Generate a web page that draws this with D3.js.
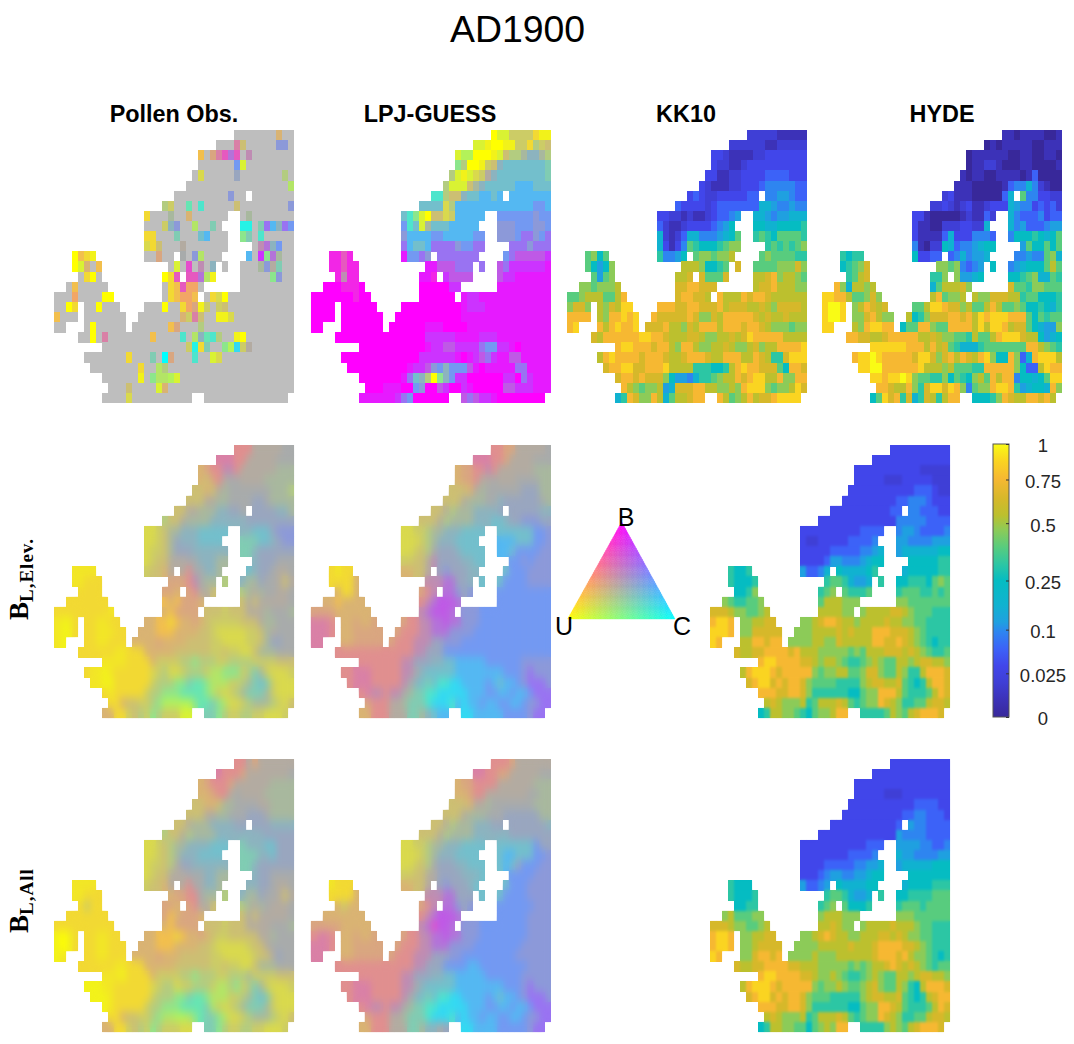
<!DOCTYPE html>
<html><head><meta charset="utf-8">
<script src="https://d3js.org/d3.v7.min.js"></script>
<style>html,body{margin:0;padding:0;background:#fff}svg{display:block}text{font-family:"Liberation Sans",Arial,sans-serif}</style>
</head><body><div id="chart"></div>
<script>
const figureTitle = "AD1900";
const columnTitles = ["Pollen Obs.", "LPJ-GUESS", "KK10", "HYDE"];
const colorbarTicks = [0, 0.025, 0.1, 0.25, 0.5, 0.75, 1];
const colorbarPositions = [0, 0.16, 0.32, 0.5, 0.71, 0.87, 1];

// inclusive land column runs of the 40 x 27 grid, per row
const landRuns = [
[[30,39]],[[27,39]],[[24,39]],[[24,39]],[[23,39]],[[22,39]],[[20,31],[33,39]],[[18,39]],
[[15,28],[31,39]],[[15,27],[31,39]],[[15,28],[31,39]],[[15,28],[33,39]],
[[3,6],[15,19],[21,27],[32,39]],[[3,7],[19,26],[28,28],[31,39]],[[4,7],[18,20],[22,26],[31,39]],
[[2,8],[18,24],[31,39]],[[0,9],[18,23],[25,39]],[[0,3],[5,10],[15,39]],[[0,3],[5,11],[14,39]],
[[0,1],[5,11],[13,39]],[[4,39]],[[8,39]],[[5,39]],[[6,39]],[[8,39]],[[9,39]],[[8,22],[25,38]]];

// symbol -> share of [Urban/U, Broadleaf/B, Conifer/C]; "_" = no observation
const ternarySymbols = {
Y:[1,0,0],y:[.9,.05,.05],A:[.85,.1,.05],a:[.8,.15,.05],o:[.7,.25,.05],O:[.6,.35,.05],r:[.45,.5,.05],
M:[0,1,0],N:[0,.9,.1],m:[.1,.85,.05],P:[0,.8,.2],f:[.2,.7,.1],p:[.25,.65,.1],q:[.1,.65,.25],D:[.15,.55,.3],
v:[.05,.55,.4],d:[.15,.4,.45],V:[.05,.4,.55],b:[.05,.28,.67],c:[.05,.15,.8],C:[0,0,1],t:[.1,.05,.85],
T:[.2,.1,.7],g:[.3,.1,.6],l:[.45,.1,.45],L:[.65,.05,.3],k:[.8,.05,.15],z:[.6,.1,.3],w:[.7,.15,.15],W:[.6,.2,.2],
S:[.55,.25,.2],s:[.5,.2,.3],h:[.38,.28,.34],G:[.33,.33,.34],B:[.25,.35,.4],e:[.2,.25,.55],E:[.3,.2,.5],n:[.25,.3,.45],
R:[.44,.44,.12],i:[.35,.5,.15],x:[.5,.35,.15],X:[.55,.3,.15],u:[.3,.45,.25],j:[.37,.33,.3]};

// symbol 0..g -> fraction of land
const scalarSymbols = "0123456789abcdefg";
const scalarValues = [0,.01,.02,.038,.067,.096,.123,.175,.25,.32,.395,.47,.545,.64,.755,.88,1];
const scalarColors = ["#38289a","#3c32b8","#3f3fd6","#4146ea","#3c62f8","#2e85f0","#1fa0e0","#10b2d0","#05bcc2","#2cc6a4","#58cc7e","#8ccb58","#bcc02e","#d6b82a","#f6b832","#fad421","#f9fb15"];

const pollenObs = [
"_______X__","___iS_____dd_","o_xipDp_u_______","______Vk________","_w_____B_______s_","_________________z",
"_________d__ _______","sW__g_T_____S________d","a___h__X______ _h_______","___Wnd__z__E_ tt_EvbnvV","aa___E___eb___ lE_T_____",
"waS___j_______ _uDnV__","Yoay __x__ G_dz___ b_PlDh__","YkX_o _k_f_u_n _ ___hdjE__","_aY_ Yap ppDzy _____ld__",
"_o_____ _aopOO_ _________","___O____YY _aoOOo _awY___________","__Ya __Y___ ___Y__aOxyW_WS___________",
"o___ _______ _______XWiS__yyw__________","__ _Y_____ ______ox___s_______________",
"__Y_i_______o____T_zngTs__yY________","______________WtaE__lLcWj_______","_______a___E_Cx___T__kw____________",
"________a__zs_____________________","______y_lzzLk___________________","___S____kX_____________________","____w__________ ______________"];

const lpjGuess = [
"YkkWWWWayy","kkyYYyyWWasWS","kLLYYYykSsshnnhs","lsYYyWSneeeeeeeE","skykwWjneeeeeeeeE","skkkShneeeeebbbeee",
"TTsSSneebbeb bbbbbbb","eeeewsbbbbbbbbbbbbbVVb","eTlkYSSwWbbbbb VVVVVVdVV","VTekheeebbbbb dddVVVddV","dbbbbVVbbbbbVV dddVvvdVv",
"vbeebvvvvdVVvv vvvdvvv","mmpm NVVvd vvvvvvv VvqqqqqP","mmpmm NNqqqvvv v qvPPPPPPN","mumm NNm Pqqqq qPPNNNNNN",
"MMMmmmM MMMMMPP NNNNNNNNN","MMMMMMMmMM MMMMMM NPPNNNNNNNNNNNN","MMMM MMMMMM MMMMMMMMMMNPPPNNNNNNNNNNN",
"MMMM MMMMMMM MMMMMMMMMMMNNNNNNNNNNNNNNN","MM MMMMMMM MMMMMMNNNMMMMNNNNNNNNNNNNNN",
"MMMMMMMMMMMMMMMPPPPPNNNNPPPNNNNNNNNN","MMMMMMMMMMMNPPqqPPPPvVVPPNMNNNNN","MMMMMMMMMMMMMPPPPPPNMNPqvPNNqqNNNNN",
"MMMMMMMMMMNPPqdVnVVVqNMNNNNNvvNNNN","MMMMMMMNvensYlnVPPMMMMMMPPMvPNNN","MMMNNNMMVdMMqPMMPNMMMMMqqPPPNNN","NNNNNNPvVMMMMMM qvqPPNMMMMMMMM"];

const kk10 = [
"2222211111","2222221122222","3321111223333333","3221123333333333","33112233334444333","321112233345555544",
"343223333344 5566544","4333323444444477655655","33221211234456 776566777","4211233334568 887788889","72124775556 78a 9a98aaaa9".replace("556 78a","55678a"),
"73135a98889abb 9a9a9ab","ab8a 95568 abbabbc abaaaa99","a868b cccb889a d aaaabbbdb","a6ab ccd daaad ccdebccba",
"bbabbbc ddeeddd cddecccbb","aabcccaace deeddc ecccedeedcccccc","bddb cbdcff eeeddeedddecdddccdcbddddc",
"eeee cbeefef edddddedbbdceeeeedcdccdccc","ef ecefeef dddeccbdceeeceeedeedcbbbabb",
"dceeeeeeffeedcccddcbbccdcdfeeeeecccc","effeeedeecbeecbbccdcbbcdbcceeeef","cefeeeedeeedccdeeedcceeeccedc99dfff",
"deeffddeeefcccc999889cefeeddda8eed","deededddb8665799abccedeffccebbee","ecbabbc67dddeeccbbcbefffbabbcfd","79edbbec7accdee ecabcecddeffff"];

const hyde = [
"1101111001","0101111100111","0111111001100110","0112210001100001","10110011110140000","111000001455752100",
"231110000047 a553322","2232123112333765534342","33100000121142 754445344","3110022233227 756444566","31111473335554 58889878a",
"51022874556788 6a88a8a","9899 83344 4575667 55655ab7","89abd bbab5456 8 567888aca","9acd 99b b6678 889ab77a9",
"eb7ccbc 7acccdb daa9bbaaa","ffeecaabdb ceabbc cbbdddcc9aa8889","fggf bcedcd aacffeddbcaacecaaba889879",
"fggf bbdecbb c89bdddeedecfefffeeea8a9aa","ff cbeffee 8aaeebaaeeeecfcffecdda8766b",
"eeddccdeeeeeccdcbbaa9caacefffdcc8678","ffffffeeececda97779aaaaaaaeecba9","effgfeeeeedffdbdecedcefb88eb47efffc",
"ffggeeeeeefcccbcaaa99eeeeeb844cfee","ffeffgfbaa99b8a98bcaecee58878aff","eedccebb9dffdfeb5abbeffe967887eb".replace("ebb9d","eb9d"),"8afde9d79dc9cee 8889bedcceedec"];

const blElevPollen = [
"RRRjjjjjGG","iiiRRjjjjjGGG","XxRRuuRjjjjjjhhh","XSxRjGGjjjjhhhhh","SSXSjhGGGGGGGhhhs","SSSjjhhGGGGBBGhhhh",
"SSjjhhhnnBBG BBBBnnh","sSSjhhhhnnnnnnBBBBBBBB","wwWShhnnneeeee nneeeBddd","wwWShBnnneeee EEEeenBdd","wWWShBBBnnnnnn EEnBBBBBB",
"wWSSjjjGGnnnhh nBBBGGG","AAAA WSSXj jRGGnnh enBBGjjG","AAaaa xxxRuGhh s nhhBGGjSj","aaaa xxX xRjjS shjhGGjjG",
"aaaaaaa oXoxxxX SjSjjjjjG","aaaaaaaaaA Xoxxxx SSSWSSSjjjhGGGh","Ayya aaAAaa XXooaoXXxXSWWWWWSSSjhhGGG",
"Ayya aaAAAaa XXXoooXXXXSSWwwwwwWWShjGGG","Ay aaAAaaa XXXXxXXXXSSSSWWwwwwWWShBBGG",
"aaaaaaAAaaaXXXXXSSSSSSWWSWWwwShhhGGG","AAAAaaaaXWWWWsslsssWWssssWWWWSSS","aAAyAaaaaaawWswwWsssWzzlllWsEhWwwwW",
"AAyyaaaaaaWsssllEgglzzzWWshEeEWwww","aAaaaaaWsslllggggLzWwWshEEEhWwww".replace("ggggL","ggggl"),"aaXSSWWslLLLLLlggElzwwWshhhsWwS","XXaaWSsWlsWWWkk EElsWWssWWwwwW"];

const blElevLpj = [
"RRxxjjjjjG","iiiRRxjjjjGGG","XxxRRuRjjjjjjhhh","XxxRjjGjjjGGGGhh","SSSXjhGGGGGGBBBhh","SSSjhhhGGnBBBBBBGh",
"SSjshhhnnnnB BBBBBnn","SSSjshhhhnnneenBBdddBB","wwWWshhnnneeee eeeeeeVVd","wwwWshnnneeee bbbeeeVVd","wwWSsGBBBneeee bbeVVVVdd",
"WWSSjuBBBBnnee VVdVddd","aAaa XXSSj BdBBBnn eVVVdddd","aaaaX uuuDDBBn e eVVVVdddd","XaaX xRu DDdBd VVVVVVVVV",
"XXoXXXX RuDqqqD VVVVVVVVV","xxxxXXXXXX uDqqqD dddVVVVVVVVVVVV","iiiR XXxXXx xRRuuDDqDDdddVVVVVVVVVVVV",
"iiiR XXxxxxx xRRRuuDDDddddVVVVVVVVVVVVV","ii XXxxxxx xRRRuuuBBdddVVVVVVVVVVVVVVV",
"RRRRRRRRRRRRRuuBBBVVVVVVVVVVVVVVVVVV","RRRRRRRuuBBBnneebbbbbVVVVVVddddd","RRiiiRRRRRuuGneeeeebbbbbbbbVVVdvddd",
"RiiiRRRRRuGneEeTTccbbbbVbebbVdvvvd","RiuuRuuGhEETTcccccbbbVVbbVbbVvvv","xRRRjjhEEETcccTbcbbVbbVVbbVddvv","XXRRRjjjEEhnebb ccbbbbbVVVVdvv"];

const blElevHuman = [
"3333333333","3333333333333","3333333333322222","3333322233333222","33333333333444322","333333333445554333",
"333333333344 5544433","3333333333333555554444","33333333334444 566544445","3223333344445 665555666","33333444445567 677777788",
"33334665556788 8888899","9889 64457 8777789 78888899","98889 9aa97667 9 889998aba","889b 9ab a999a 9aaa99a9a",
"ba99aab acccbbb bbaaaaaaa","dddcbbaabc ccccbb bccccddcbaaa999","effe bbccdd bbcdeedccbccccdccbbaa9999",
"fffe bbddddd bbbccccdcdccceeedddcba9999","fe cceedee bbbbccbbdccccceeddedcba9899",
"dccddeeeedecccbbbbbabacccdddcdcba99a","effeeeeddcbccba99abcbaaccbcddccb","cefffedeeeeebabbccaabddbaacb99ceeed",
"deffdedeedbaaaa9999bcddccda989ceed","eeeddeedb99999988abbeeeca999aced","cdcbbbc9acccdca9abbedcb99aacddc","89ccbba98abbcee 9999acbacdeeed"];

const blAllPollen = [
"RRjxjjjjjj","iRRRxjjjjjjjG","XxRRRxjjjjjjhhhh","XXxRRjGjjjjhhhhh","SSXXShhGGGGjjhhhh","SSSjjhhGGGBBBGhhhh",
"SSjhhhnnnnBB BBBnnnn","sSSjshhhhnnnnnnnnBBBBB","wwWSshhnnnneee EnnneeBBB","wwWSshnnneeee EEEnneBBB","wWWSsjBBnnnnnn EEnBBBBBB",
"wWSSjjjGGGnnhh nBBGGGG","AAAA WSSXj jRGGnnh nnBBGjjG","AAaaa XxxRRGhh s nhhBGGjSj","aWaa xxX xRjjS shjhGjjjG",
"aaaaaaa xoXxxxX SjSjjjjjG","aaaaaaaaaa Xoxxxx SSSWSSSjjjjGGGh","yYya aaAAaa XXoooaoXXxXSWWSSSSSjjhGGG",
"yYya aaAAaaa XXXoooXXXXSSWwwwwwWSSjGGGG","yA aaAAaaa XXXXxXXXSSSSSWWwwwwwWSSjBGG",
"aaaaaaAAaaaXXXXXSSSSSSWWSWWwwShhhGGG","AAAyaaaaXWWWWsslsssWWssshWWWWSSS","yyyAAaaaaaawWsswWWsssWzzslWsEhWwwwW",
"yyyAaaaaaaWsssllEgglzzzWWshEeEWwww","yAaaaaaWsslllggggEzWwWshEEEhWwww","aaXSSWWslzzLLzlgEElzwwWshhhsWwS","XXaaWSsWlsWWWww EElsWWssWWwwwW"];

const blAllLpj = [
"RRRxjjjjjj","iiRRxxjjjjjGG","XxxRRRRjjjjjjhhh","XXxRRjjjjjjjGGhh","SSSXjjhGGGGGGGhhh","SSSjhhhGGGBBBBBBhh",
"SSjshhhnnnBB BBBBBBn","SSSjshhhhnnnnnnBBBBBBB","wwWWshhnnneeee eeeeeeVBB","wwwWshnnneeee ebbeeeVVd","wwWSsGBBBnneee ebeBVVVdd",
"WWSSjjBBBBnnne VVVVddd","Aaaa XXSSj BdBBBne eVVVdddd","aaaaX uuuDDBBB e eVVVVdddd","XWXX xRu DDdBd VVVVVVddd",
"XXXXXXX RuDqqqD VVVVVdddd","xxxxxXXXXX uDfqqD dddVVVVVVVVdddd","RiiR XXxXXx xRRuuDDqDDdddVVVVVVVVdddd",
"iiiR XXxxxxx xRRRuuDDDddddVVVVVVVVddddd","ii XXxxxxx xRRRuuuBBBddVVVVVVVVVdddddd",
"RRRRRRRRRRRRRuuBBBVVVVbbVVVVVVVVdddd","RRRRRRRuuBBBnneebbbbbVVVVVVddddd","RRiiiRRRRRuuGneeeeebbbbbbbbVVVdvddd",
"RiiiRRRRRuGneEeTTccbbbbVbebbVdvvvd","RiuuRuuGhEETTcccccbbbVVbbVbbVvvv","xRRRjjhEEETcccTbcbbVbbVVbbVddvv","XXRRRjjjEEhnnGB ccbbbbVVVVVdvv"];

const blAllHuman = [
"3333333333","3333333333333","3333333333333333","3333322233333333","33333333333444433","333333333344554443",
"333333333334 6554444","3333333333333655554444","33333333333444 666655445","3333333344445 766555566","33334444455667 677777888",
"33345665566788 8888888","9888 64456 8777788 78888999","98889 9aa97667 9 889999aaa","8899 9ab a8889 9aaa9aaaa",
"bcaaabb bcccbbb bbbaaaaaa","dddcbbaabc ccdcbb bccccdcccbaa999","effe bbccdd bbcdedccbbcccddcdcbbaa999",
"effe bbcdddd bbbbcccccdcccdeeeeddcba999","fe bbdeede bbbbcbbbccccccdeeedecbba989",
"dccddeeeeddcccbbbbbababccdedcdcba9aa","effeeeeddcbbcba99abcbaaccbcddccb","cefffedeeeeebabbcbaabcdbaacb98ceeed",
"deffdedeedbaaa99999bcddccda989cdee","eeeddeedb99999988abbeedca999aced","cdcbbbc9acccdca9abbedcb99aacddc","89ccbbaa8abcbee 9999bcbacdeeed"];

const W = 1074, H = 1044, cellW = 6, cellH = 273 / 27;
const svg = d3.select("#chart").append("svg").attr("width", W).attr("height", H).attr("viewBox", `0 0 ${W} ${H}`);
const defs = svg.append("defs");

function addBlur(id, sx, sy) {
  defs.append("filter").attr("id", id).attr("filterUnits", "userSpaceOnUse")
    .attr("x", 0).attr("y", 0).attr("width", W).attr("height", H)
    .attr("color-interpolation-filters", "sRGB")
    .append("feGaussianBlur").attr("stdDeviation", `${sx} ${sy}`);
}
addBlur("soft", 0.45, 0.45);
addBlur("mid", 1.3, 1.8);
addBlur("wide", 3.2, 5);

const colX = d3.scaleLinear().domain([0, 40]).range([0, 40 * cellW]);
const rowY = d3.scaleLinear().domain([0, 27]).range([0, 273]);
const fracColor = d3.scaleLinear().domain(scalarValues).range(scalarColors).clamp(true);

const ternaryColor = t => d3.rgb((t[0] + t[1]) * 255, (t[0] + t[2]) * 255, (t[1] + t[2]) * 255).formatHex();
const ternaryFill = ch => ch === "_" ? "#bebebe" : ternaryColor(ternarySymbols[ch] || ternarySymbols.G);
const scalarFill = ch => fracColor(scalarValues[Math.max(0, scalarSymbols.indexOf(ch))]);

function cellsOf(rows) {
  const out = [];
  rows.forEach((s, r) => {
    const segs = s.split(" ");
    landRuns[r].forEach((run, k) => {
      const seg = segs[k] || segs[segs.length - 1];
      for (let c = run[0]; c <= run[1]; c++) {
        const j = c - run[0];
        out.push({ r, c, ch: seg[Math.min(j, seg.length - 1)] });
      }
    });
  });
  return out;
}

let clipCount = 0;
function drawPanel(rows, x0, y0, fill, smooth) {
  const cells = cellsOf(rows);
  const paint = (g) => g.selectAll("rect").data(cells).join("rect")
    .attr("x", d => x0 + colX(d.c)).attr("y", d => y0 + rowY(d.r))
    .attr("width", cellW + 0.2).attr("height", cellH + 0.3)
    .attr("fill", d => fill(d.ch))
    .attr("shape-rendering", "crispEdges");
  paint(svg.append("g").attr("filter", "url(#soft)"));
  if (smooth) {
    const id = "land" + (clipCount++);
    defs.append("clipPath").attr("id", id).selectAll("rect").data(cells).join("rect")
      .attr("x", d => x0 + colX(d.c)).attr("y", d => y0 + rowY(d.r))
      .attr("width", cellW + 0.2).attr("height", cellH + 0.3);
    paint(svg.append("g").attr("clip-path", `url(#${id})`).append("g").attr("filter", `url(#${smooth})`));
  }
}

const rowTops = [130, 445, 759];
const colLefts = [54, 310.6, 567, 821.5];
const humanLeft = 710;
drawPanel(pollenObs, colLefts[0], rowTops[0], ternaryFill);
drawPanel(lpjGuess, colLefts[1], rowTops[0], ternaryFill);
drawPanel(kk10, colLefts[2], rowTops[0], scalarFill);
drawPanel(hyde, colLefts[3], rowTops[0], scalarFill);
drawPanel(blElevPollen, colLefts[0], rowTops[1], ternaryFill, "wide");
drawPanel(blElevLpj, colLefts[1], rowTops[1], ternaryFill, "wide");
drawPanel(blElevHuman, humanLeft, rowTops[1], scalarFill, "mid");
drawPanel(blAllPollen, colLefts[0], rowTops[2], ternaryFill, "wide");
drawPanel(blAllLpj, colLefts[1], rowTops[2], ternaryFill, "wide");
drawPanel(blAllHuman, humanLeft, rowTops[2], scalarFill, "mid");

svg.append("text").attr("x", 517.5).attr("y", 42).attr("text-anchor", "middle")
  .attr("font-size", 37.4).attr("fill", "#000").text(figureTitle);

[174, 430, 686, 942].forEach((x, i) => {
  svg.append("text").attr("x", x).attr("y", 122).attr("text-anchor", "middle")
    .attr("font-size", 23.4).attr("font-weight", "bold").attr("fill", "#000").text(columnTitles[i]);
});

function rowLabel(x, y, sub) {
  const t = svg.append("text").attr("transform", `translate(${x},${y}) rotate(-90)`)
    .style("font-family", '"Liberation Serif",serif').attr("font-weight", "bold").attr("fill", "#000");
  t.append("tspan").attr("font-size", 27).text("B");
  t.append("tspan").attr("font-size", 19).attr("dy", 5).attr("letter-spacing", 1).text(sub);
}
rowLabel(28, 620, "L,Elev.");
rowLabel(28, 933, "L,All");

// colour bar
const barX = 993, barW = 16, barTop = 444, barBottom = 717;
const barScale = d3.scaleLinear().domain(colorbarTicks)
  .range(colorbarPositions.map(p => barBottom - p * (barBottom - barTop)));
const grad = defs.append("linearGradient").attr("id", "bar").attr("gradientUnits", "userSpaceOnUse")
  .attr("x1", 0).attr("x2", 0).attr("y1", barBottom).attr("y2", barTop);
scalarValues.forEach((v, i) => grad.append("stop")
  .attr("offset", (barBottom - barScale(v)) / (barBottom - barTop)).attr("stop-color", scalarColors[i]));
svg.append("rect").attr("x", barX).attr("y", barTop).attr("width", barW).attr("height", barBottom - barTop)
  .attr("fill", "url(#bar)").attr("stroke", "#555").attr("stroke-width", 1);
const axis = svg.append("g").attr("transform", `translate(${barX + barW},0)`)
  .call(d3.axisRight(barScale).tickValues(colorbarTicks).tickFormat(d => String(d)).tickSize(-3));
axis.select(".domain").remove();
axis.selectAll("line").attr("stroke", "#333");
axis.selectAll("text").attr("x", 34).attr("y", 2).attr("text-anchor", "middle").attr("font-size", 18.5)
  .attr("fill", "#262626").style("font-family", '"Liberation Sans",sans-serif');

// ternary key
const triTop = [621.7, 522], triLeft = [567.7, 619], triRight = [675, 619], triN = 44;
const triPt = (u, b, c) => [u * triLeft[0] + b * triTop[0] + c * triRight[0], u * triLeft[1] + b * triTop[1] + c * triRight[1]];
const tris = [];
for (let i = 0; i < triN; i++) for (let j = 0; j < triN - i; j++) {
  const k = triN - i - j;
  const mk = (a, b) => [a / triN, b / triN, 1 - (a + b) / triN];
  tris.push([mk(i, j), mk(i + 1, j), mk(i, j + 1)]);
  if (k > 1) tris.push([mk(i + 1, j), mk(i, j + 1), mk(i + 1, j + 1)]);
}
svg.append("g").selectAll("polygon").data(tris).join("polygon")
  .attr("points", d => d.map(t => triPt(...t).join(",")).join(" "))
  .attr("fill", d => ternaryColor([0, 1, 2].map(n => (d[0][n] + d[1][n] + d[2][n]) / 3)))
  .attr("stroke", d => ternaryColor([0, 1, 2].map(n => (d[0][n] + d[1][n] + d[2][n]) / 3)))
  .attr("stroke-width", 0.4);
[["B", 626, 525.5], ["U", 564, 635], ["C", 682, 635]].forEach(([s, x, y]) =>
  svg.append("text").attr("x", x).attr("y", y).attr("text-anchor", "middle")
    .attr("font-size", 25).attr("fill", "#000").text(s));
</script></body></html>
